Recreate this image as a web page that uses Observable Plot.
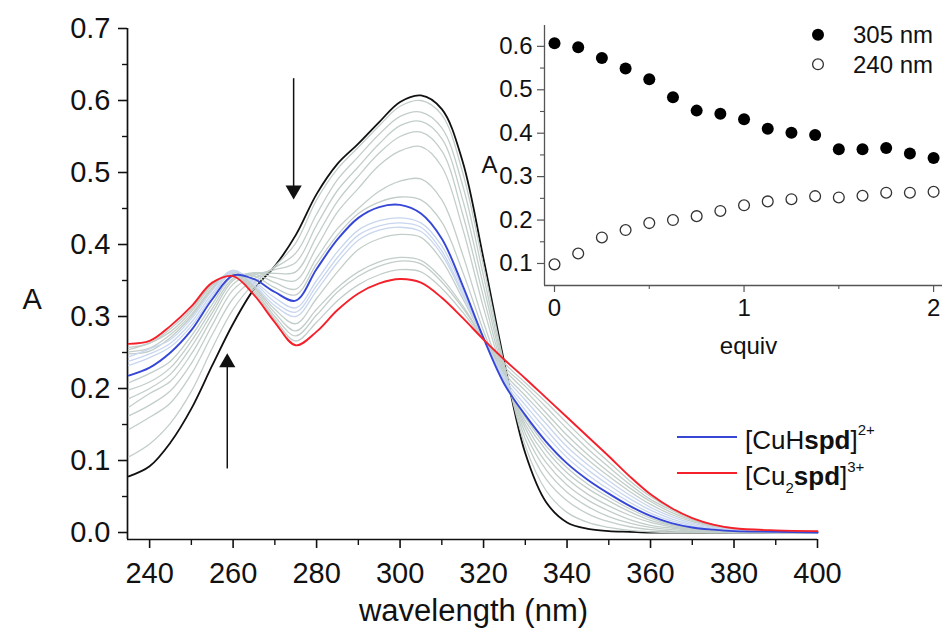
<!DOCTYPE html>
<html><head><meta charset="utf-8">
<script src="https://cdn.jsdelivr.net/npm/d3@7"></script>
<script src="https://cdn.jsdelivr.net/npm/@observablehq/plot@0.6"></script>
<style>
html,body{margin:0;padding:0;background:#fff;overflow:hidden;}
#wrap{position:relative;width:942px;height:630px;}
#wrap svg{position:absolute;top:0;}
</style></head><body><div id="wrap"></div>
<script>
// ---------- data: main spectra ----------
const wavelengths = [235,240,245,250,255,260,265,270,275,280,285,290,295,300,305,310,315,320,325,330,335,340,345,350,355,360,365,370,375,380,390,400];
const spectrum0  = [0.078,0.092,0.125,0.172,0.232,0.290,0.338,0.370,0.413,0.470,0.512,0.540,0.570,0.598,0.607,0.588,0.515,0.380,0.235,0.110,0.042,0.014,0.005,0.002,0.001,0,0,0,0,0,0,0];
const spectrum1  = [0.105,0.123,0.152,0.196,0.256,0.310,0.346,0.370,0.402,0.462,0.505,0.535,0.565,0.592,0.600,0.580,0.500,0.370,0.232,0.120,0.058,0.028,0.014,0.007,0.003,0.001,0,0,0,0,0,0];
const spectrum2  = [0.143,0.160,0.180,0.220,0.275,0.325,0.352,0.368,0.388,0.442,0.490,0.522,0.553,0.578,0.584,0.562,0.482,0.356,0.228,0.130,0.074,0.044,0.026,0.015,0.008,0.004,0.002,0.001,0,0,0,0];
const spectrum3  = [0.162,0.177,0.197,0.235,0.288,0.337,0.357,0.365,0.375,0.427,0.475,0.508,0.540,0.565,0.571,0.547,0.462,0.342,0.224,0.138,0.087,0.056,0.036,0.022,0.013,0.007,0.004,0.002,0.001,0,0,0];
const spectrum4  = [0.174,0.193,0.210,0.248,0.298,0.345,0.360,0.360,0.362,0.411,0.460,0.495,0.527,0.550,0.556,0.530,0.442,0.327,0.220,0.145,0.097,0.066,0.045,0.030,0.018,0.010,0.006,0.003,0.002,0.001,0,0];
const spectrum5  = [0.186,0.200,0.220,0.258,0.305,0.350,0.361,0.354,0.350,0.396,0.445,0.478,0.510,0.530,0.536,0.508,0.422,0.312,0.216,0.150,0.106,0.075,0.053,0.037,0.024,0.014,0.008,0.004,0.002,0.001,0,0];
const spectrum6  = [0.198,0.209,0.229,0.266,0.311,0.353,0.359,0.347,0.338,0.381,0.422,0.450,0.474,0.488,0.491,0.462,0.386,0.292,0.211,0.155,0.114,0.083,0.061,0.044,0.029,0.017,0.010,0.005,0.003,0.001,0,0];
const spectrum7  = [0.208,0.221,0.238,0.273,0.317,0.356,0.356,0.340,0.330,0.373,0.413,0.443,0.459,0.466,0.462,0.431,0.362,0.280,0.208,0.160,0.120,0.090,0.067,0.049,0.033,0.020,0.011,0.006,0.003,0.001,0,0];
const spectrum8  = [0.218,0.229,0.250,0.281,0.324,0.357,0.352,0.334,0.322,0.366,0.407,0.437,0.452,0.455,0.443,0.408,0.343,0.270,0.206,0.163,0.126,0.096,0.073,0.054,0.037,0.023,0.013,0.007,0.004,0.002,0.001,0];
const spectrum9  = [0.232,0.243,0.258,0.287,0.328,0.362,0.349,0.326,0.312,0.350,0.390,0.420,0.433,0.437,0.430,0.398,0.338,0.270,0.210,0.170,0.135,0.104,0.080,0.060,0.042,0.027,0.016,0.009,0.005,0.003,0.001,0];
const spectrum10 = [0.238,0.248,0.263,0.292,0.332,0.363,0.347,0.320,0.306,0.343,0.382,0.413,0.426,0.430,0.424,0.391,0.333,0.270,0.213,0.177,0.143,0.111,0.087,0.066,0.047,0.031,0.019,0.011,0.006,0.003,0.001,0];
const spectrum11 = [0.244,0.255,0.268,0.297,0.336,0.364,0.344,0.315,0.300,0.336,0.375,0.406,0.420,0.424,0.418,0.386,0.330,0.270,0.217,0.184,0.151,0.119,0.094,0.072,0.052,0.035,0.022,0.013,0.007,0.004,0.001,0];
const spectrum12 = [0.248,0.252,0.271,0.300,0.338,0.364,0.342,0.310,0.290,0.325,0.362,0.393,0.408,0.414,0.410,0.378,0.325,0.270,0.221,0.190,0.159,0.127,0.101,0.078,0.057,0.039,0.025,0.015,0.008,0.004,0.002,0.001];
const spectrum13 = [0.251,0.256,0.275,0.303,0.340,0.362,0.340,0.305,0.280,0.310,0.340,0.362,0.376,0.382,0.378,0.353,0.315,0.269,0.226,0.197,0.166,0.135,0.108,0.084,0.062,0.043,0.028,0.017,0.009,0.005,0.002,0.001];
const spectrum14 = [0.254,0.263,0.279,0.307,0.343,0.360,0.337,0.300,0.273,0.302,0.334,0.356,0.370,0.377,0.373,0.348,0.312,0.269,0.230,0.203,0.174,0.144,0.116,0.091,0.067,0.046,0.031,0.018,0.010,0.005,0.002,0.001];
const spectrum15 = [0.257,0.263,0.283,0.310,0.345,0.358,0.334,0.296,0.266,0.292,0.322,0.344,0.358,0.365,0.362,0.339,0.306,0.268,0.235,0.208,0.181,0.152,0.124,0.098,0.072,0.050,0.033,0.020,0.011,0.006,0.002,0.001];
const spectrum16 = [0.262,0.266,0.287,0.314,0.347,0.356,0.330,0.292,0.260,0.279,0.309,0.332,0.346,0.352,0.347,0.326,0.298,0.268,0.240,0.214,0.187,0.160,0.133,0.106,0.078,0.053,0.034,0.020,0.011,0.006,0.003,0.002];

// ---------- data: inset ----------
const equiv  = [0,0.125,0.25,0.375,0.5,0.625,0.75,0.875,1,1.125,1.25,1.375,1.5,1.625,1.75,1.875,2];
const abs305 = [0.607,0.598,0.573,0.549,0.524,0.483,0.452,0.445,0.432,0.410,0.401,0.396,0.363,0.363,0.366,0.353,0.343];
const abs240 = [0.098,0.123,0.160,0.177,0.193,0.200,0.209,0.221,0.234,0.243,0.248,0.255,0.252,0.256,0.263,0.263,0.265];

// ---------- ticks & labels ----------
const xTicks = [240,260,280,300,320,340,360,380,400];
const xMinorTicks = [250,270,290,310,330,350,370,390];
const yTicks = [0,0.1,0.2,0.3,0.4,0.5,0.6,0.7];
const yMinorTicks = [0.05,0.15,0.25,0.35,0.45,0.55,0.65];
const insetXTicks = [0,1,2];
const insetXMinorTicks = [0.5,1.5];
const insetYTicks = [0.1,0.2,0.3,0.4,0.5,0.6];
const insetYMinorTicks = [0.15,0.25,0.35,0.45,0.55];
const xLabel = "wavelength (nm)";
const yLabel = "A";
const insetXLabel = "equiv";
const insetSeries = ["305 nm", "240 nm"];

// ---------- build ----------
const spectra = [spectrum0,spectrum1,spectrum2,spectrum3,spectrum4,spectrum5,spectrum6,spectrum7,spectrum8,
  spectrum9,spectrum10,spectrum11,spectrum12,spectrum13,spectrum14,spectrum15,spectrum16];
const rows = spectra.flatMap((arr, i) => arr.map((a, j) => ({w: wavelengths[j], a, s: i})));
const arrows = [
  {x: 274.5, from: 0.631, to: 0.4625, down: true},
  {x: 258.6, from: 0.089, to: 0.249, down: false}
];
const FONT = "'Liberation Sans', Arial, Helvetica, sans-serif";
const xDom = [234.7, 400], yDom = [-0.0097, 0.7];
const ink = "#111";
const blue = "#3646d6", red = "#f4202a";

const main = Plot.plot({
  width: 942, height: 630,
  marginLeft: 127, marginRight: 125, marginTop: 28, marginBottom: 91,
  x: {domain: xDom}, y: {domain: yDom},
  style: {fontFamily: FONT, fontSize: "29px", background: "transparent", color: ink, overflow: "visible"},
  marks: [
    Plot.ruleX([xDom[0]], {stroke: ink, strokeWidth: 1.7}),
    Plot.ruleY([yDom[0]], {stroke: ink, strokeWidth: 1.7}),
    Plot.axisX(xTicks, {tickSize: 9, tickPadding: 14, tickFormat: d => String(d), label: null, stroke: ink, strokeWidth: 1.6}),
    Plot.axisX(xMinorTicks, {tickSize: 6, tickFormat: () => "", label: null, stroke: ink, strokeWidth: 1.4}),
    Plot.axisY(yTicks, {tickSize: 9, tickPadding: 8, tickFormat: d3.format(".1f"), label: null, stroke: ink, strokeWidth: 1.6}),
    Plot.axisY(yMinorTicks, {tickSize: 5, tickFormat: () => "", label: null, stroke: ink, strokeWidth: 1.4}),
    Plot.line(rows.filter(d => d.s === 0), {x: "w", y: "a", stroke: ink, strokeWidth: 1.8, curve: "catmull-rom"}),
    Plot.line(rows.filter(d => (d.s >= 1 && d.s <= 7) || (d.s >= 12 && d.s <= 15)), {x: "w", y: "a", z: "s", stroke: "#c2cec9", strokeWidth: 1.3, curve: "catmull-rom"}),
    Plot.line(rows.filter(d => d.s >= 9 && d.s <= 11), {x: "w", y: "a", z: "s", stroke: "#c8d6ee", strokeWidth: 1.3, curve: "catmull-rom"}),
    Plot.line(rows.filter(d => d.s === 8), {x: "w", y: "a", stroke: blue, strokeWidth: 1.9, curve: "catmull-rom"}),
    Plot.line(rows.filter(d => d.s === 16), {x: "w", y: "a", stroke: red, strokeWidth: 1.9, curve: "catmull-rom"}),
    Plot.link(arrows, {x1: "x", x2: "x", y1: "from", y2: d => d.down ? d.to + 0.017 : d.to - 0.017, stroke: ink, strokeWidth: 1.5}),
    Plot.dot(arrows.filter(d => d.down), {x: "x", y: "to", symbol: "triangle", r: 6, fill: ink, stroke: "none", rotate: 180, dy: -9.3}),
    Plot.dot(arrows.filter(d => !d.down), {x: "x", y: "to", symbol: "triangle", r: 6, fill: ink, stroke: "none", dy: 9.3}),
    Plot.text([xLabel], {text: d => d, frameAnchor: "bottom", dy: 81, dx: 1, lineAnchor: "bottom", fill: ink, fontSize: 31}),
    Plot.text([yLabel], {text: d => d, frameAnchor: "left", dx: -105, dy: 24.5, lineAnchor: "bottom", fill: ink})
  ]
});

// legend of main plot
{
  const g = d3.select(main).append("g").attr("font-family", FONT).attr("fill", ink).attr("text-anchor", "start");
  g.append("line").attr("x1", 677).attr("x2", 737).attr("y1", 437).attr("y2", 437).attr("stroke", blue).attr("stroke-width", 1.9);
  g.append("line").attr("x1", 677).attr("x2", 737).attr("y1", 473).attr("y2", 473).attr("stroke", red).attr("stroke-width", 1.9);
  const t1 = g.append("text").attr("x", 745).attr("y", 449).attr("font-size", 26).attr("text-anchor", "start");
  t1.append("tspan").text("[CuH");
  t1.append("tspan").attr("font-weight", "bold").text("spd");
  t1.append("tspan").text("]");
  t1.append("tspan").attr("font-size", 15).attr("dy", -14).text("2+");
  const t2 = g.append("text").attr("x", 745).attr("y", 485).attr("font-size", 26).attr("text-anchor", "start");
  t2.append("tspan").text("[Cu");
  t2.append("tspan").attr("font-size", 15).attr("dy", 8).text("2");
  t2.append("tspan").attr("font-weight", "bold").attr("dy", -8).text("spd");
  t2.append("tspan").text("]");
  t2.append("tspan").attr("font-size", 15).attr("dy", -13).text("3+");
}

// ---------- inset ----------
const inDom = {x: [-0.0528, 2.047], y: [0.0493, 0.648]};
const insetRows305 = equiv.map((e, i) => ({e, a: abs305[i]}));
const insetRows240 = equiv.map((e, i) => ({e, a: abs240[i]}));
const axisGray = "#555";
const inset = Plot.plot({
  width: 482, height: 380,
  marginLeft: 84, marginRight: 0, marginTop: 25, marginBottom: 95,
  x: {domain: inDom.x}, y: {domain: inDom.y},
  style: {fontFamily: FONT, fontSize: "24px", background: "transparent", color: ink, overflow: "visible"},
  marks: [
    Plot.ruleX([inDom.x[0]], {stroke: axisGray, strokeWidth: 1.3}),
    Plot.ruleY([inDom.y[0]], {stroke: axisGray, strokeWidth: 1.3}),
    Plot.axisX(insetXTicks, {tickSize: 7, tickPadding: 6, tickFormat: d => String(d), label: null, stroke: axisGray, strokeWidth: 1.2}),
    Plot.axisX(insetXMinorTicks, {tickSize: 4, tickFormat: () => "", label: null, stroke: axisGray, strokeWidth: 1.1}),
    Plot.axisY(insetYTicks, {tickSize: 7, tickPadding: 5, tickFormat: d3.format(".1f"), label: null, stroke: axisGray, strokeWidth: 1.2}),
    Plot.axisY(insetYMinorTicks, {tickSize: 4, tickFormat: () => "", label: null, stroke: axisGray, strokeWidth: 1.1}),
    Plot.dot(insetRows305, {x: "e", y: "a", r: 6, fill: "#000", stroke: "none"}),
    Plot.dot(insetRows240, {x: "e", y: "a", r: 5.4, fill: "none", stroke: "#333", strokeWidth: 1.3}),
    Plot.text([insetXLabel], {text: d => d, frameAnchor: "bottom", dx: 5, dy: 68, lineAnchor: "bottom", fill: ink}),
    Plot.text([yLabel], {text: d => d, frameAnchor: "left", dx: -63, dy: 17.5, lineAnchor: "bottom", fill: ink})
  ]
});
{
  const g = d3.select(inset).append("g").attr("font-family", FONT).attr("fill", ink).attr("text-anchor", "start");
  g.append("circle").attr("cx", 358).attr("cy", 34.7).attr("r", 6).attr("fill", "#000");
  g.append("circle").attr("cx", 358).attr("cy", 64.3).attr("r", 5.4).attr("fill", "none").attr("stroke", "#333").attr("stroke-width", 1.3);
  g.append("text").attr("x", 393).attr("y", 43).attr("font-size", 24).attr("text-anchor", "start").text(insetSeries[0]);
  g.append("text").attr("x", 393).attr("y", 73).attr("font-size", 24).attr("text-anchor", "start").text(insetSeries[1]);
}

const wrap = document.getElementById("wrap");
main.style.left = "0px";
inset.style.left = "460px";
wrap.appendChild(main);
wrap.appendChild(inset);
</script></body></html>
